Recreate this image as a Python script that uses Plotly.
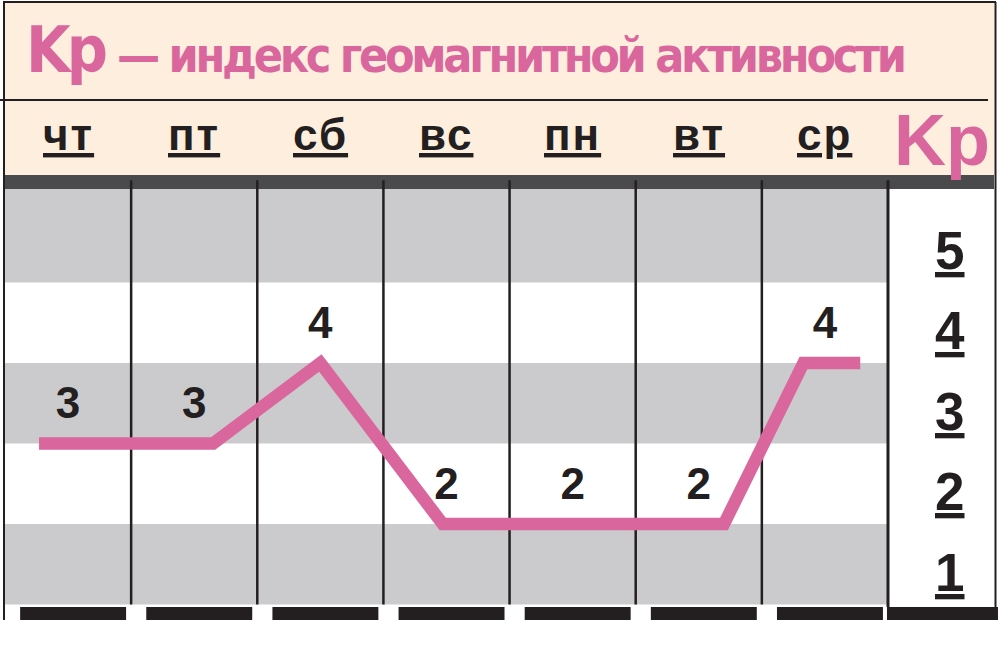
import plotly.graph_objects as go

# days of the week (column headers) and the Kp index read for each day
days = ["чт", "пт", "сб", "вс", "пн", "вт", "ср"]
kp_day = [3, 3, 4, 2, 2, 2, 4]

# Kp scale printed in the right column
kp_scale = [1, 2, 3, 4, 5]

# the pink pen line, as drawn on the card (x in day units, y in Kp)
line_x = [-0.23, 1.15, 2.0, 2.97, 5.2, 5.83, 6.28]
line_kp = [3, 3, 4, 2, 2, 4, 4]

PINK = "#DA669E"
CREAM = "#FDEEDD"
GRAY = "#CBCBCD"
DARK = "#4A4A4C"
INK = "#231F20"
NARROW = "Noto Sans Condensed, Noto Sans SemiCondensed, DejaVu Sans Condensed, sans-serif"
SANS = "Liberation Sans, Arial, sans-serif"

W, H = 1000, 663


def px(x):
    return x / W


def py(y):
    return 1 - y / H


n = len(days)
chart_top = 6.16     # top of the striped area in Kp units
x_range = [-0.5396, 7.388]
y_range = [0.2733, 8.509]

fig = go.Figure()

fig.add_trace(go.Scatter(
    x=line_x, y=line_kp, mode="lines",
    line=dict(color=PINK, width=12.5),
    hoverinfo="skip", showlegend=False))

fig.add_trace(go.Scatter(
    x=list(range(n)), y=[v + 0.45 for v in kp_day],
    mode="text", text=["<b>%d</b>" % v for v in kp_day],
    textposition="middle center",
    textfont=dict(family=SANS, size=44, color=INK),
    hoverinfo="skip", showlegend=False))

shapes = []
# header panel
shapes.append(dict(type="rect", xref="paper", yref="paper",
                   x0=px(3), x1=px(994), y0=py(175), y1=py(2),
                   fillcolor=CREAM, line_width=0, layer="below"))
shapes.append(dict(type="line", xref="paper", yref="paper",
                   x0=px(3), x1=px(996), y0=py(2), y1=py(2),
                   line=dict(color=INK, width=2)))
shapes.append(dict(type="line", xref="paper", yref="paper",
                   x0=px(4), x1=px(4), y0=py(2), y1=py(620),
                   line=dict(color=INK, width=2)))
shapes.append(dict(type="line", xref="paper", yref="paper",
                   x0=px(995.5), x1=px(995.5), y0=py(2), y1=py(607),
                   line=dict(color=INK, width=2)))
shapes.append(dict(type="line", xref="paper", yref="paper",
                   x0=0, x1=px(988), y0=py(100), y1=py(100),
                   line=dict(color=INK, width=2)))
shapes.append(dict(type="rect", xref="paper", yref="paper",
                   x0=px(5), x1=px(994), y0=py(189), y1=py(175),
                   fillcolor=DARK, line_width=0, layer="below"))

# grey stripes on odd Kp bands, the top one runs up to the dark band
for lo in [1, 3, 5]:
    hi = lo + 1 if lo < 5 else chart_top
    shapes.append(dict(type="rect", xref="x", yref="y",
                       x0=-0.5, x1=n - 0.5, y0=lo, y1=hi,
                       fillcolor=GRAY, line_width=0, layer="below"))

# column dividers
for i in range(n - 1):
    shapes.append(dict(type="line", xref="x", yref="y",
                       x0=i + 0.5, x1=i + 0.5, y0=1, y1=6.27,
                       line=dict(color=INK, width=2.5), layer="below"))
# right column border
shapes.append(dict(type="line", xref="x", yref="y",
                   x0=n - 0.5, x1=n - 0.5, y0=0.97, y1=6.27,
                   line=dict(color=INK, width=3), layer="below"))

# black feet under every column
for i in range(n):
    shapes.append(dict(type="rect", xref="x", yref="y",
                       x0=i - 0.38, x1=i + 0.46, y0=0.8075, y1=0.969,
                       fillcolor=INK, line_width=0, layer="below"))
shapes.append(dict(type="rect", xref="x", yref="y",
                   x0=n - 0.508, x1=n + 0.372, y0=0.8075, y1=0.969,
                   fillcolor=INK, line_width=0, layer="below"))

annotations = []
# title (condensed face, squeezed a little more to fit the card)
annotations.append(dict(xref="paper", yref="paper", x=px(24), y=py(50),
                        xanchor="left", yanchor="middle", showarrow=False,
                        text="<span style='letter-spacing:-4px'>Kp</span>",
                        font=dict(family=NARROW, size=64, color=PINK, weight="bold")))
annotations.append(dict(xref="paper", yref="paper", x=px(115), y=py(55),
                        xanchor="left", yanchor="middle", showarrow=False,
                        text="<span style='letter-spacing:-3.3px'>— индекс геомагнитной активности</span>",
                        font=dict(family=NARROW, size=48, color=PINK, weight="bold")))
# day headers
for i, d in enumerate(days):
    annotations.append(dict(xref="x", yref="paper", x=i, y=py(135),
                            xanchor="center", yanchor="middle", showarrow=False,
                            text="<span style='letter-spacing:2px'>%s</span>" % d,
                            font=dict(family=SANS, size=44, color=INK,
                                      weight="bold", lineposition="under")))
annotations.append(dict(xref="paper", yref="paper", x=px(942), y=py(140),
                        xanchor="center", yanchor="middle", showarrow=False,
                        text="Kp", font=dict(family=SANS, size=72, color=PINK, weight="bold")))
# Kp scale
for k in kp_scale:
    annotations.append(dict(xref="x", yref="y", x=n - 0.01, y=k + 0.4,
                            xanchor="center", yanchor="middle", showarrow=False,
                            text=str(k),
                            font=dict(family=SANS, size=53, color=INK,
                                      weight="bold", lineposition="under")))

fig.update_layout(
    width=W, height=H,
    margin=dict(l=0, r=0, t=0, b=0),
    paper_bgcolor="white", plot_bgcolor="rgba(0,0,0,0)",
    xaxis=dict(range=x_range, visible=False, fixedrange=True),
    yaxis=dict(range=y_range, visible=False, fixedrange=True),
    shapes=shapes, annotations=annotations,
    showlegend=False,
)

# the page's default body margin would push the card 8px down and right
fig.write_html("out.html", config={"displayModeBar": False},
               post_script="document.body.style.margin = '0';")
